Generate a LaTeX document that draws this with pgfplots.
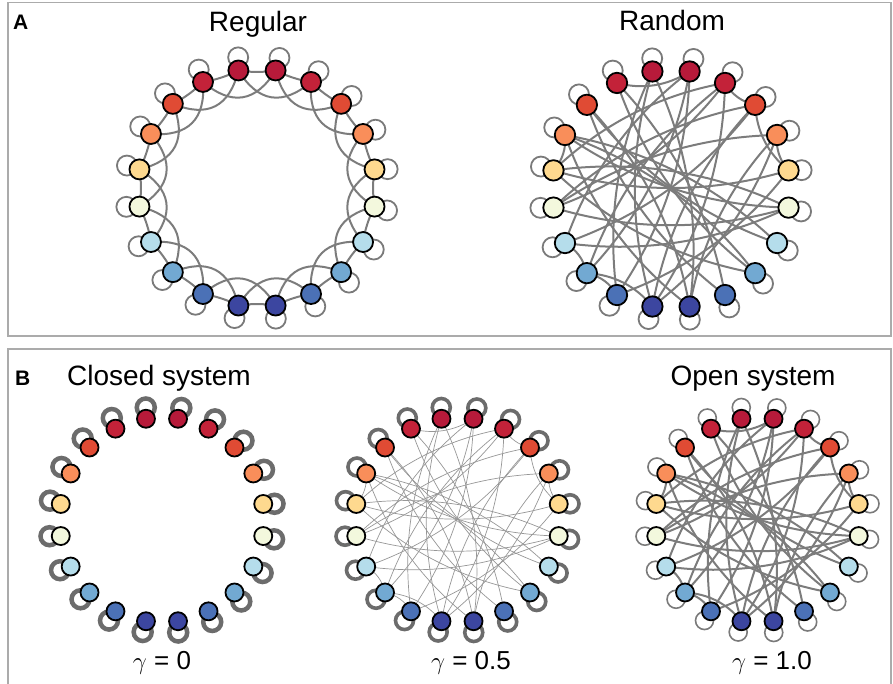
\documentclass[border=0pt]{standalone}
\usepackage{pgfplots}
\pgfplotsset{compat=1.18}
\usepackage{pgfplotstable}
\usepackage{fontspec}
\setmainfont{Liberation Sans}

% node palette, red at the top of the ring and blue at the bottom
\definecolor{col0}{HTML}{B71A3A}
\definecolor{col1}{HTML}{C32239}
\definecolor{col2}{HTML}{E04B34}
\definecolor{col3}{HTML}{F98E5A}
\definecolor{col4}{HTML}{FED98F}
\definecolor{col5}{HTML}{F3F8DD}
\definecolor{col6}{HTML}{B5DDEB}
\definecolor{col7}{HTML}{72A9D2}
\definecolor{col8}{HTML}{4B71B6}
\definecolor{col9}{HTML}{3C46A0}
\definecolor{edgegray}{HTML}{7C7C7C}
\definecolor{loopgray}{HTML}{7A7A7A}
\definecolor{heavyloop}{HTML}{6C6C6C}
\definecolor{framegray}{HTML}{ABABAB}

% 20 nodes on the unit circle, numbered clockwise from the top
\pgfplotstableread{
k x y cls
0 0.1564 0.9877 c0
1 0.4540 0.8910 c1
2 0.7071 0.7071 c2
3 0.8910 0.4540 c3
4 0.9877 0.1564 c4
5 0.9877 -0.1564 c5
6 0.8910 -0.4540 c6
7 0.7071 -0.7071 c7
8 0.4540 -0.8910 c8
9 0.1564 -0.9877 c9
10 -0.1564 -0.9877 c9
11 -0.4540 -0.8910 c8
12 -0.7071 -0.7071 c7
13 -0.8910 -0.4540 c6
14 -0.9877 -0.1564 c5
15 -0.9877 0.1564 c4
16 -0.8910 0.4540 c3
17 -0.7071 0.7071 c2
18 -0.4540 0.8910 c1
19 -0.1564 0.9877 c0
}\ring

% regular ring lattice: first and second neighbours
\def\latticeOne{0/1,1/2,2/3,3/4,4/5,5/6,6/7,7/8,8/9,9/10,10/11,11/12,12/13,13/14,14/15,15/16,16/17,17/18,18/19,19/0}
\def\latticeTwo{0/2,1/3,2/4,3/5,4/6,5/7,6/8,7/9,8/10,9/11,10/12,11/13,12/14,13/15,14/16,15/17,16/18,17/19,18/0,19/1}
% random graph: short links near the rim and long chords
\def\randRim{18/0,15/16,11/12,12/13,10/12,3/4,2/4,1/2}
\def\randChord{19/10,18/7,8/18,17/6,9/17,16/5,6/16,15/4,5/15,15/7,1/15,14/1,2/14,14/5,3/14,13/2,0/13,12/0,1/12,11/0,19/11,10/1,2/10,9/19,3/9,17/8,11/4,13/5,10/3,16/9,7/16}

% curved links between ring nodes, in axis coordinates
% #1 edge list, #2 bend (control offset as a fraction of chord length), #3 style
\newcommand\ringedges[3]{%
  \foreach \a/\b in #1 {%
    \pgfplotstablegetelem{\a}{x}\of\ring \let\xa\pgfplotsretval
    \pgfplotstablegetelem{\a}{y}\of\ring \let\ya\pgfplotsretval
    \pgfplotstablegetelem{\b}{x}\of\ring \let\xb\pgfplotsretval
    \pgfplotstablegetelem{\b}{y}\of\ring \let\yb\pgfplotsretval
    \pgfmathsetmacro\xc{(\xa+\xb)/2+#2*(\yb-\ya)}%
    \pgfmathsetmacro\yc{(\ya+\yb)/2-#2*(\xb-\xa)}%
    \pgfmathsetmacro\xp{\xa+2*(\xc-\xa)/3}%
    \pgfmathsetmacro\yp{\ya+2*(\yc-\ya)/3}%
    \pgfmathsetmacro\xq{\xb+2*(\xc-\xb)/3}%
    \pgfmathsetmacro\yq{\yb+2*(\yc-\yb)/3}%
    \edef\tmp{\noexpand\draw[#3] (axis cs:\xa,\ya) .. controls (axis cs:\xp,\yp) and (axis cs:\xq,\yq) .. (axis cs:\xb,\yb);}%
    \tmp
  }%
}

\tikzset{
  edgethick/.style={draw=edgegray, line width=2pt},
  edgethin/.style={draw=edgegray!80, line width=0.7pt},
}

\pgfplotsset{
  netaxis/.style={anchor=center, hide axis, clip=false,
    xmin=-1.3, xmax=1.3, ymin=-1.3, ymax=1.3},
  ringnodes/.style={scatter, only marks, mark=*, mark size=#1,
    mark options={line width=1.8pt},
    point meta=explicit symbolic,
    scatter/classes={
      c0={fill=col0, draw=black}, c1={fill=col1, draw=black},
      c2={fill=col2, draw=black}, c3={fill=col3, draw=black},
      c4={fill=col4, draw=black}, c5={fill=col5, draw=black},
      c6={fill=col6, draw=black}, c7={fill=col7, draw=black},
      c8={fill=col8, draw=black}, c9={fill=col9, draw=black}}},
  selfloops/.style 2 args={only marks, mark=o, mark size=#1,
    mark options={draw=loopgray, line width=#2}},
  heavyloops/.style 2 args={only marks, mark=o, mark size=#1,
    mark options={draw=heavyloop, line width=#2}},
}

% self-loop centres: pushed outward from each node, turned slightly clockwise
\def\loopx#1{\thisrow{x}+#1*(0.990*\thisrow{x}+0.139*\thisrow{y})}
\def\loopy#1{\thisrow{y}+#1*(-0.139*\thisrow{x}+0.990*\thisrow{y})}

\begin{document}
\begin{tikzpicture}
\path[use as bounding box] (0pt,0pt) rectangle (893pt,683pt);

% panel frames
\draw[framegray, line width=1.6pt] (8pt,680.5pt) rectangle (891pt,347pt);
\draw[framegray, line width=1.6pt] (8pt,334pt) rectangle (891pt,-5pt);

\node[anchor=base west, inner sep=0pt, font=\bfseries\fontsize{21}{23}\selectfont] at (13pt,653pt) {A};
\node[anchor=base west, inner sep=0pt, font=\bfseries\fontsize{21}{23}\selectfont] at (15pt,297pt) {B};

\node[anchor=base, font=\fontsize{28}{30}\selectfont] at (258pt,651pt) {Regular};
\node[anchor=base, font=\fontsize{28}{30}\selectfont] at (672pt,652pt) {Random};
\node[anchor=base, font=\fontsize{28}{30}\selectfont] at (159pt,297pt) {Closed system};
\node[anchor=base, font=\fontsize{28}{30}\selectfont] at (753pt,297pt) {Open system};
\node[anchor=base, font=\fontsize{26}{28}\selectfont] at (162pt,14pt) {$\gamma$ = 0};
\node[anchor=base, font=\fontsize{26}{28}\selectfont] at (471pt,14pt) {$\gamma$ = 0.5};
\node[anchor=base, font=\fontsize{26}{28}\selectfont] at (772pt,14pt) {$\gamma$ = 1.0};

% ---- Regular
\begin{axis}[netaxis, at={(257pt,495pt)}, x=119pt, y=119pt]
\ringedges{\latticeOne}{0.08}{edgethick}
\ringedges{\latticeTwo}{0.58}{edgethick}
\addplot[selfloops={10pt}{1.8pt}] table[x expr={\loopx{0.11}}, y expr={\loopy{0.11}}] {\ring};
\addplot[ringnodes=10pt] table[x=x, y=y, meta=cls] {\ring};
\end{axis}

% ---- Random
\begin{axis}[netaxis, at={(671pt,494pt)}, x=119pt, y=119pt]
\ringedges{\randRim}{0.22}{edgethick}
\ringedges{\randChord}{0.15}{edgethick}
\addplot[selfloops={10pt}{1.8pt}] table[x expr={\loopx{0.11}}, y expr={\loopy{0.11}}] {\ring};
\addplot[ringnodes=10.2pt] table[x=x, y=y, meta=cls] {\ring};
\end{axis}

% ---- gamma = 0, closed system: self-loops only
\begin{axis}[netaxis, at={(162pt,163pt)}, x=102.5pt, y=102.5pt]
\addplot[heavyloops={9pt}{4.5pt}] table[x expr={\loopx{0.11}}, y expr={\loopy{0.11}}] {\ring};
\addplot[ringnodes=9pt] table[x=x, y=y, meta=cls] {\ring};
\end{axis}

% ---- gamma = 0.5
\begin{axis}[netaxis, at={(457.5pt,163pt)}, x=102.5pt, y=102.5pt]
\ringedges{\randRim}{0.22}{edgethin}
\ringedges{\randChord}{0.15}{edgethin}
\addplot[heavyloops={9pt}{3.6pt}] table[x expr={\loopx{0.11}}, y expr={\loopy{0.11}}] {\ring};
\addplot[ringnodes=9pt] table[x=x, y=y, meta=cls] {\ring};
\end{axis}

% ---- gamma = 1, open system
\begin{axis}[netaxis, at={(757.5pt,163pt)}, x=102.5pt, y=102.5pt]
\ringedges{\randRim}{0.22}{edgethick}
\ringedges{\randChord}{0.15}{edgethick}
\addplot[selfloops={9pt}{1.6pt}] table[x expr={\loopx{0.11}}, y expr={\loopy{0.11}}] {\ring};
\addplot[ringnodes=9pt] table[x=x, y=y, meta=cls] {\ring};
\end{axis}
\end{tikzpicture}
\end{document}
